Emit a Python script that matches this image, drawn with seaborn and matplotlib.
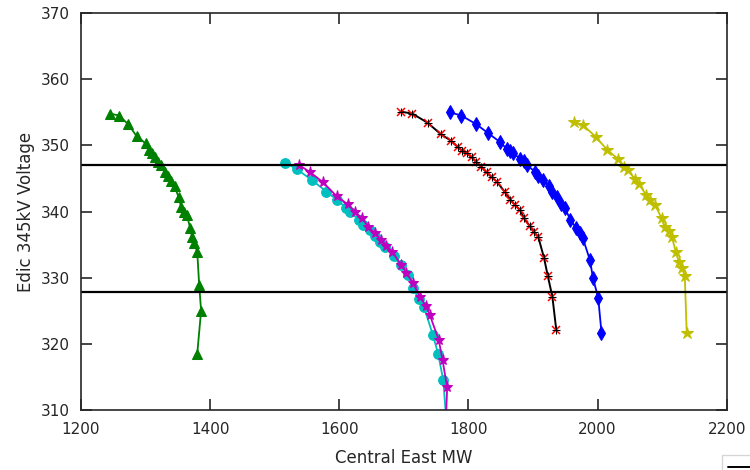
import matplotlib
matplotlib.use("Agg")
import matplotlib.pyplot as plt
import seaborn as sns

# green triangles
green_mw = [1245, 1259, 1273, 1286, 1300, 1305, 1310, 1315, 1320, 1324, 1330, 1335,
            1340, 1345, 1351, 1355, 1360, 1364, 1369, 1372, 1375, 1380, 1383, 1386, 1380]
green_kv = [354.8, 354.5, 353.2, 351.4, 350.3, 349.3, 348.8, 348.3, 347.5, 347.0, 346.0, 345.3,
            344.6, 343.8, 342.2, 340.7, 340.0, 339.5, 337.5, 336.2, 335.3, 333.9, 328.9, 325.0, 318.5]

# cyan circles
cyan_mw = [1516, 1534, 1557, 1580, 1597, 1610, 1616, 1631, 1637, 1647, 1655, 1663,
           1671, 1684, 1695, 1707, 1714, 1723, 1731, 1745, 1753, 1761, 1766]
cyan_kv = [347.4, 346.4, 344.8, 343.0, 341.7, 340.6, 340.0, 338.7, 338.0, 337.2, 336.3, 335.4,
           334.7, 333.2, 331.9, 330.4, 328.5, 326.8, 325.6, 321.3, 318.5, 314.5, 308.0]

# magenta stars
mag_mw = [1538, 1554, 1575, 1596, 1613, 1624, 1635, 1645, 1655, 1665, 1673, 1682,
          1696, 1704, 1714, 1725, 1734, 1740, 1754, 1760, 1767, 1765]
mag_kv = [347.0, 346.0, 344.4, 342.3, 341.1, 340.0, 339.0, 337.7, 336.7, 335.7, 334.8, 333.9,
          331.9, 330.7, 329.2, 327.1, 325.7, 324.4, 320.6, 317.5, 313.4, 308.0]

# black line, red asterisks
black_mw = [1695, 1713, 1737, 1757, 1773, 1784, 1790, 1797, 1805, 1812, 1820, 1828, 1836,
            1844, 1856, 1865, 1872, 1880, 1886, 1895, 1901, 1908, 1917, 1923, 1930, 1936]
black_kv = [355.1, 354.8, 353.4, 351.7, 350.7, 349.7, 349.2, 348.9, 348.2, 347.5, 346.8, 345.9, 345.2,
            344.5, 343.0, 341.8, 341.0, 340.2, 339.0, 337.8, 336.9, 336.2, 333.0, 330.2, 327.1, 322.1]

# blue diamonds
blue_mw = [1771, 1789, 1812, 1831, 1849, 1859, 1865, 1869, 1880, 1886, 1891, 1903, 1908,
           1916, 1924, 1930, 1937, 1944, 1949, 1958, 1967, 1972, 1977, 1988, 1993, 2001, 2006]
blue_kv = [355.0, 354.5, 353.2, 351.8, 350.5, 349.5, 349.2, 348.8, 348.0, 347.6, 347.0, 346.0, 345.4,
           344.8, 343.9, 343.0, 342.2, 341.2, 340.6, 338.7, 337.5, 336.7, 336.0, 332.7, 329.9, 326.9, 321.7]

# yellow stars
yel_mw = [1963, 1978, 1997, 2015, 2031, 2041, 2047, 2058, 2064, 2075, 2081, 2089,
          2099, 2104, 2110, 2115, 2121, 2126, 2131, 2135, 2138]
yel_kv = [353.5, 353.0, 351.3, 349.3, 348.0, 346.8, 346.2, 344.9, 344.2, 342.5, 341.8, 341.0,
          339.0, 337.6, 337.0, 336.2, 333.9, 332.3, 331.4, 330.2, 321.7]

limits_kv = [347.0, 327.8]

sns.set_style("ticks")
plt.rcParams['font.family'] = ['DejaVu Sans']

fig = plt.figure(figsize=(7.5, 4.7), dpi=100)
ax = fig.add_axes([0.108, 0.1277, 0.861, 0.8446])

series = [
    (green_mw, green_kv, "#008000", "^", 7),
    (cyan_mw, cyan_kv, "#00bfbf", "o", 7),
    (mag_mw, mag_kv, "#bf00bf", "*", 8),
    (blue_mw, blue_kv, "#0000ff", "d", 7),
    (yel_mw, yel_kv, "#bfbf00", "*", 9),
]
for xs, ys, col, mk, ms in series:
    sns.lineplot(x=xs, y=ys, sort=False, estimator=None, color=col, marker=mk,
                 markersize=ms, markeredgecolor=col, linewidth=1.3, ax=ax)

sns.lineplot(x=black_mw, y=black_kv, sort=False, estimator=None, color="black",
             marker="x", markersize=6, markeredgecolor="red", markeredgewidth=1.1,
             linewidth=1.4, ax=ax, label="limit")
sns.lineplot(x=black_mw, y=black_kv, sort=False, estimator=None, color="black",
             marker="+", markersize=6, markeredgecolor="black", markeredgewidth=0.8,
             linestyle="none", ax=ax)

for v in limits_kv:
    ax.axhline(v, color="black", linewidth=1.6)

ax.set_xlim(1200, 2200)
ax.set_ylim(310, 370)
ax.set_xticks([1200, 1400, 1600, 1800, 2000, 2200])
ax.set_yticks(range(310, 371, 10))
ax.tick_params(direction="in", top=True, right=True, length=8, width=1.2, labelsize=11)
ax.tick_params(axis="x", pad=9)
ax.tick_params(axis="y", pad=8)
for s in ax.spines.values():
    s.set_linewidth(1.2)
    s.set_visible(True)
ax.set_xlabel("Central East MW", fontsize=12, labelpad=8)
ax.set_ylabel("Edic 345kV Voltage", fontsize=12)

leg = ax.legend(handles=[ax.lines[5]], labels=[""], loc="upper left",
                bbox_to_anchor=(722 / 750, 1 - 455 / 470), bbox_transform=fig.transFigure,
                fancybox=False, edgecolor="#cccccc", handlelength=2.5, borderaxespad=0)
leg.legend_handles[0].set_marker("")

fig.savefig("out.png", dpi=100)
